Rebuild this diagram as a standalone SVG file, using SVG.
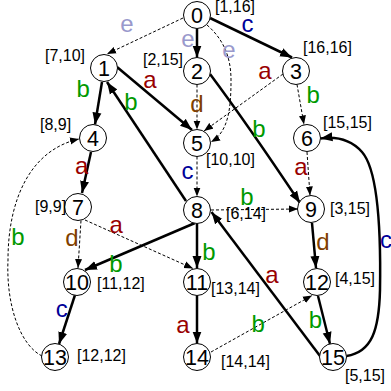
<svg xmlns="http://www.w3.org/2000/svg" width="391" height="391" viewBox="0 0 391 391">
<style>
.s{fill:none;stroke:#000;stroke-width:2.5;marker-end:url(#ah)}
.d{fill:none;stroke:#000;stroke-width:1;stroke-dasharray:3,2;marker-end:url(#ahd)}
.n circle{fill:#fff;stroke:#000;stroke-width:1}
.n text.k{font-family:"Liberation Sans",Arial,sans-serif;font-size:21.5px;text-anchor:middle;fill:#000}
.n text.i{font-family:"Liberation Sans",Arial,sans-serif;font-size:16px;fill:#000}
.l{font-family:"Liberation Sans",Arial,sans-serif;font-size:24px;text-anchor:middle}
.la{fill:#990000}.lb{fill:#009900}.lc{fill:#000099}.ld{fill:#804000}.le{fill:#9999cc}
</style>
<defs>
<marker id="ah" markerUnits="userSpaceOnUse" markerWidth="13" markerHeight="10" refX="12" refY="5" orient="auto"><path d="M0,0.5 L12,5 L0,9.5 z" fill="#000"/></marker>
<marker id="ahd" markerUnits="userSpaceOnUse" markerWidth="10" markerHeight="8" refX="9" refY="4" orient="auto"><path d="M0,0.5 L9,4 L0,7.5 z" fill="#000"/></marker>
</defs>
<g id="connectors">
<path class="d" d="M183,18 L107,54"/>
<path class="s" d="M197,28.5 L197,57.5"/>
<path class="s" d="M210,18 L292,57.5"/>
<path class="d" d="M207,25 C222,38 231,55 231,80 C231,110 228,132 211,142"/>
<path class="s" d="M102,82 L95,124.5"/>
<path class="s" d="M117,67 L192,130"/>
<path class="d" d="M197,84.5 L197,129.5"/>
<path class="s" d="M210,74 Q248,125 300,203"/>
<path class="d" d="M283,74 L204,131"/>
<path class="d" d="M297,84.5 L304,124.5"/>
<path class="s" d="M91,152 L82,193"/>
<path class="d" d="M197,156.5 L197,196.5"/>
<path class="d" d="M307,152 L310,195.5"/>
<path class="d" d="M81,220.5 L78,268"/>
<path class="d" d="M85,220 L193,268.5"/>
<path class="s" d="M186,201 L107,82"/>
<path class="d" d="M211,210 L298,209"/>
<path class="s" d="M195,223 L85,270"/>
<path class="s" d="M197,223.5 L197,268"/>
<path class="s" d="M312,223 L316,268"/>
<path class="s" d="M346.5,356 C372,352 379,330 380,290 C381,230 378,170 362,152 C352,141 338,136 320.5,138.5"/>
<path class="s" d="M75,295 L59,344"/>
<path class="d" d="M42,356 C20,345 6,305 8,260 C8,200 30,150 79,139"/>
<path class="s" d="M197,295.5 L197,343.5"/>
<path class="d" d="M211,352 L312,295.5"/>
<path class="s" d="M318,296 L330,344"/>
<path class="s" d="M320,356 L211.5,212"/>
<text class="l le" x="127" y="31.7">e</text>
<text class="l le" x="188" y="46.7">e</text>
<text class="l lc" x="247.5" y="31.7">c</text>
<text class="l le" x="229" y="58.3">e</text>
<text class="l lb" x="83.3" y="96.7">b</text>
<text class="l la" x="150" y="88.3">a</text>
<text class="l ld" x="197" y="111.7">d</text>
<text class="l lb" x="259" y="136.7">b</text>
<text class="l la" x="265" y="79.3">a</text>
<text class="l lb" x="313.3" y="103.3">b</text>
<text class="l la" x="81.7" y="174.3">a</text>
<text class="l lc" x="187.5" y="179.3">c</text>
<text class="l la" x="301" y="175">a</text>
<text class="l ld" x="72" y="246">d</text>
<text class="l la" x="116.3" y="233.3">a</text>
<text class="l lb" x="131" y="110">b</text>
<text class="l lb" x="247" y="204.5">b</text>
<text class="l lb" x="116" y="271.7">b</text>
<text class="l lb" x="209" y="260">b</text>
<text class="l ld" x="323" y="250">d</text>
<text class="l lc" x="386" y="248.3">c</text>
<text class="l lc" x="61.7" y="316.7">c</text>
<text class="l lb" x="18" y="245">b</text>
<text class="l la" x="183" y="333.3">a</text>
<text class="l lb" x="258.3" y="331.7">b</text>
<text class="l lb" x="315.5" y="328.3">b</text>
<text class="l la" x="272" y="282.7">a</text>
</g>
<g id="node0" class="n"><circle cx="197" cy="15" r="13.5"/><text class="k" x="197" y="22.7">0</text><text class="i" x="215" y="12">[1,16]</text></g>
<g id="node1" class="n"><circle cx="104" cy="68" r="13.5"/><text class="k" x="104" y="75.7">1</text><text class="i" x="45" y="61">[7,10]</text></g>
<g id="node2" class="n"><circle cx="197" cy="71" r="13.5"/><text class="k" x="197" y="78.7">2</text><text class="i" x="143" y="65">[2,15]</text></g>
<g id="node3" class="n"><circle cx="296" cy="71" r="13.5"/><text class="k" x="296" y="78.7">3</text><text class="i" x="303" y="53">[16,16]</text></g>
<g id="node4" class="n"><circle cx="93" cy="138" r="13.5"/><text class="k" x="93" y="145.7">4</text><text class="i" x="40" y="130">[8,9]</text></g>
<g id="node5" class="n"><circle cx="197" cy="143" r="13.5"/><text class="k" x="197" y="150.7">5</text><text class="i" x="206" y="165">[10,10]</text></g>
<g id="node6" class="n"><circle cx="307" cy="138" r="13.5"/><text class="k" x="307" y="145.7">6</text><text class="i" x="323" y="128">[15,15]</text></g>
<g id="node7" class="n"><circle cx="78" cy="207" r="13.5"/><text class="k" x="78" y="214.7">7</text><text class="i" x="35" y="212">[9,9]</text></g>
<g id="node8" class="n"><circle cx="197" cy="210" r="13.5"/><text class="k" x="197" y="217.7">8</text><text class="i" x="226" y="219">[6,14]</text></g>
<g id="node9" class="n"><circle cx="311" cy="209" r="13.5"/><text class="k" x="311" y="216.7">9</text><text class="i" x="330" y="214">[3,15]</text></g>
<g id="node10" class="n"><circle cx="77" cy="282" r="13.5"/><text class="k" x="77" y="289.7">10</text><text class="i" x="97" y="289">[11,12]</text></g>
<g id="node11" class="n"><circle cx="197" cy="282" r="13.5"/><text class="k" x="197" y="289.7">11</text><text class="i" x="211" y="294">[13,14]</text></g>
<g id="node12" class="n"><circle cx="317" cy="282" r="13.5"/><text class="k" x="317" y="289.7">12</text><text class="i" x="335" y="284">[4,15]</text></g>
<g id="node13" class="n"><circle cx="55" cy="357" r="13.5"/><text class="k" x="55" y="364.7">13</text><text class="i" x="77" y="361">[12,12]</text></g>
<g id="node14" class="n"><circle cx="197" cy="357" r="13.5"/><text class="k" x="197" y="364.7">14</text><text class="i" x="221" y="367">[14,14]</text></g>
<g id="node15" class="n"><circle cx="333" cy="357" r="13.5"/><text class="k" x="333" y="364.7">15</text><text class="i" x="345" y="381">[5,15]</text></g>
</svg>
